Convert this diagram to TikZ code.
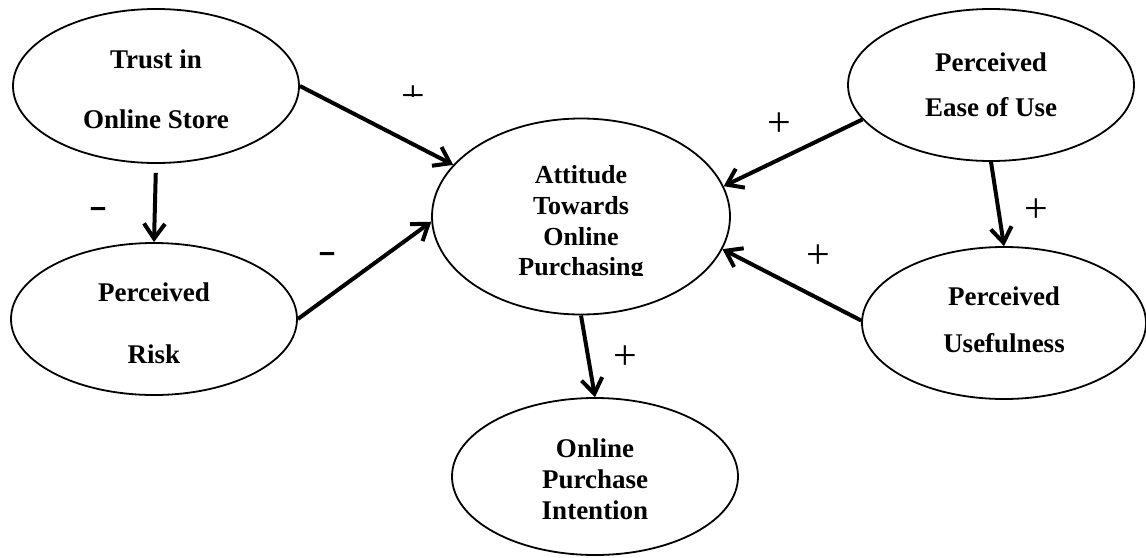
\documentclass[tikz,border=0pt]{standalone}
\usepackage{fontspec}
\setmainfont{Liberation Serif}
\usetikzlibrary{shapes.geometric,arrows.meta}
\begin{document}
\begin{tikzpicture}[x=1pt,y=-1pt,
  construct/.style={draw, ellipse, line width=1.8pt, inner sep=0pt},
  caption/.style={inner sep=0pt, align=center},
  link/.style={line width=4pt, -{Straight Barb[length=15pt,width=21pt]}},
  plussign/.style={inner sep=0pt, font=\fontsize{42}{42}\selectfont},
  minussign/.style={inner sep=0pt, font=\bfseries\fontsize{28}{28}\selectfont}]
\useasboundingbox (0,0) rectangle (1146,557);

% constructs
\node[construct, minimum width=286pt, minimum height=154pt] (trust) at (156,86) {};
\node[construct, minimum width=286pt, minimum height=152pt] (risk) at (154,319) {};
\node[construct, minimum width=298pt, minimum height=196pt] (att) at (581,216.5) {};
\node[construct, minimum width=286pt, minimum height=152pt] (ease) at (991,85) {};
\node[construct, minimum width=284pt, minimum height=152pt] (use) at (1004,323) {};
\node[construct, minimum width=286pt, minimum height=157pt] (int) at (595,476.5) {};

% their names
\node[caption, font=\bfseries\fontsize{27}{60}\selectfont] (trust-t) at (156,89) {Trust in\\Online Store};
\node[caption, font=\bfseries\fontsize{27}{62}\selectfont] (risk-t) at (154,323.5) {Perceived\\Risk};
\begin{scope}
  \clip (480,150) rectangle (680,275.5);
  \node[caption, font=\bfseries\fontsize{26}{30.7}\selectfont] (att-t) at (581,223.5) {Attitude\\Towards\\Online\\Purchasing};
\end{scope}
\node[caption, font=\bfseries\fontsize{27}{45}\selectfont] (ease-t) at (991,85) {Perceived\\Ease of Use};
\node[caption, font=\bfseries\fontsize{27}{47}\selectfont] (use-t) at (1004,319.5) {Perceived\\Usefulness};
\node[caption, font=\bfseries\fontsize{27}{31}\selectfont] (int-t) at (595,479) {Online\\Purchase\\Intention};

% paths
\draw[link] (trust.0) -- (att.158);
\draw[link, shorten <=9pt] (trust.-90) -- (risk.90);
\draw[link] (risk.0) -- (att.182);
\draw[link] (ease.195) -- (att.12);
\draw[link] (ease.-90) -- (use.90);
\draw[link] (use.179) -- (att.-13);
\draw[link] (att.-90) -- (int.90);

% signs of the paths
\begin{scope}
  \clip (380,70) rectangle (450,96.5);
  \node[plussign] (s1) at (413,97.5) {+};
\end{scope}
\node[minussign] (s2) at (98,213) {\scalebox{1}[1.6]{–}};
\node[minussign] (s3) at (327,258) {\scalebox{1}[1.6]{–}};
\node[plussign] (s4) at (779,125) {+};
\node[plussign] (s5) at (1036,211) {+};
\node[plussign] (s6) at (818,257) {+};
\node[plussign] (s7) at (625,358) {+};
\end{tikzpicture}
\end{document}
